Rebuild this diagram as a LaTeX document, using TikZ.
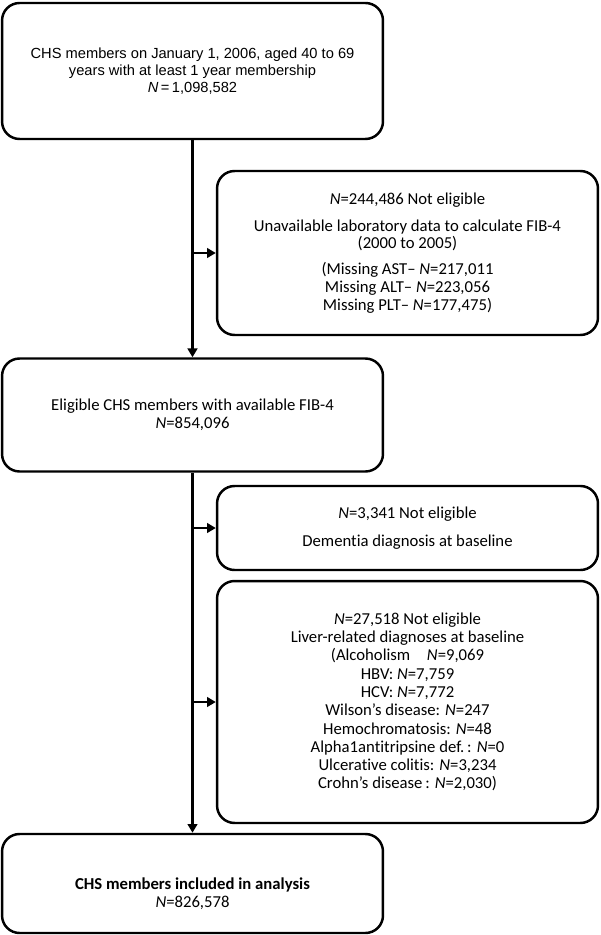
\documentclass[tikz,border=0pt]{standalone}
\usepackage{fontspec}
\setmainfont{Carlito}[Ligatures=NoCommon]
\newfontfamily\arialfont{Liberation Sans}
\usetikzlibrary{arrows.meta}
\tikzset{
    box/.style={draw, line width=1.4pt, rounded corners=0.35cm, align=center,
        minimum width=7.62cm, inner sep=0pt, font=\fontsize{9.5}{10}\selectfont},
    flow/.style={line width=1.4pt, -{Triangle[length=5pt,width=5.5pt]}}
}
\newcommand{\NN}{\textit{N}}
\begin{document}
\begin{tikzpicture}[x=0.02cm,y=-0.02cm]
        \useasboundingbox (0,0) rectangle (600,935);
        \node [box, minimum height=2.72cm, font=\arialfont\fontsize{8.35}{9.8}\selectfont] (cohort) at (192.5,71)
            {CHS members on January 1, 2006, aged 40 to 69\\years with at least 1 year membership\\\NN{\,}={\,}1,098,582};
        \node [box, minimum height=3.28cm] (nolab) at (407.5,253)
            {\NN=244,486 Not eligible\\[5pt]Unavailable laboratory data to calculate FIB-4\\(2000 to 2005)\\[5pt]
             (Missing AST-- \NN=217,011\\Missing ALT-- \NN=223,056\\Missing PLT-- \NN=177,475)};
        \node [box, minimum height=2.26cm] (eligible) at (192.5,415)
            {Eligible CHS members with available FIB-4\\\NN=854,096};
        \node [box, minimum height=1.68cm] (dementia) at (407.5,528)
            {\NN=3,341 Not eligible\\[6pt]Dementia diagnosis at baseline};
        \node [box, minimum height=4.84cm, font=\fontsize{9.5}{10.4}\selectfont] (liver) at (407.5,702)
            {\NN=27,518 Not eligible\\Liver-related diagnoses at baseline\\(Alcoholism\quad\NN=9,069\\HBV: \NN=7,759\\HCV: \NN=7,772\\
             Wilson's disease: \NN=247\\Hemochromatosis: \NN=48\\Alpha1antitripsine def.\,: \NN=0\\
             Ulcerative colitis: \NN=3,234\\Crohn's disease\,: \NN=2,030)};
        \node [box, minimum height=1.98cm] (final) at (192.5,883.5)
            {\rule{0pt}{18pt}\textbf{CHS members included in analysis}\\\NN=826,578};
        % main flow
        \draw [flow] (cohort) -- (eligible);
        \draw [flow] (eligible) -- (final);
        \coordinate (j1) at (eligible.south |- nolab.west);
        \coordinate (j2) at (eligible.south |- dementia.west);
        \coordinate (j3) at (eligible.south |- liver.west);
        \draw [flow] (j1) -- (nolab.west);
        \draw [flow] (j2) -- (dementia.west);
        \draw [flow] (j3) -- (liver.west);
    \end{tikzpicture}
\end{document}
